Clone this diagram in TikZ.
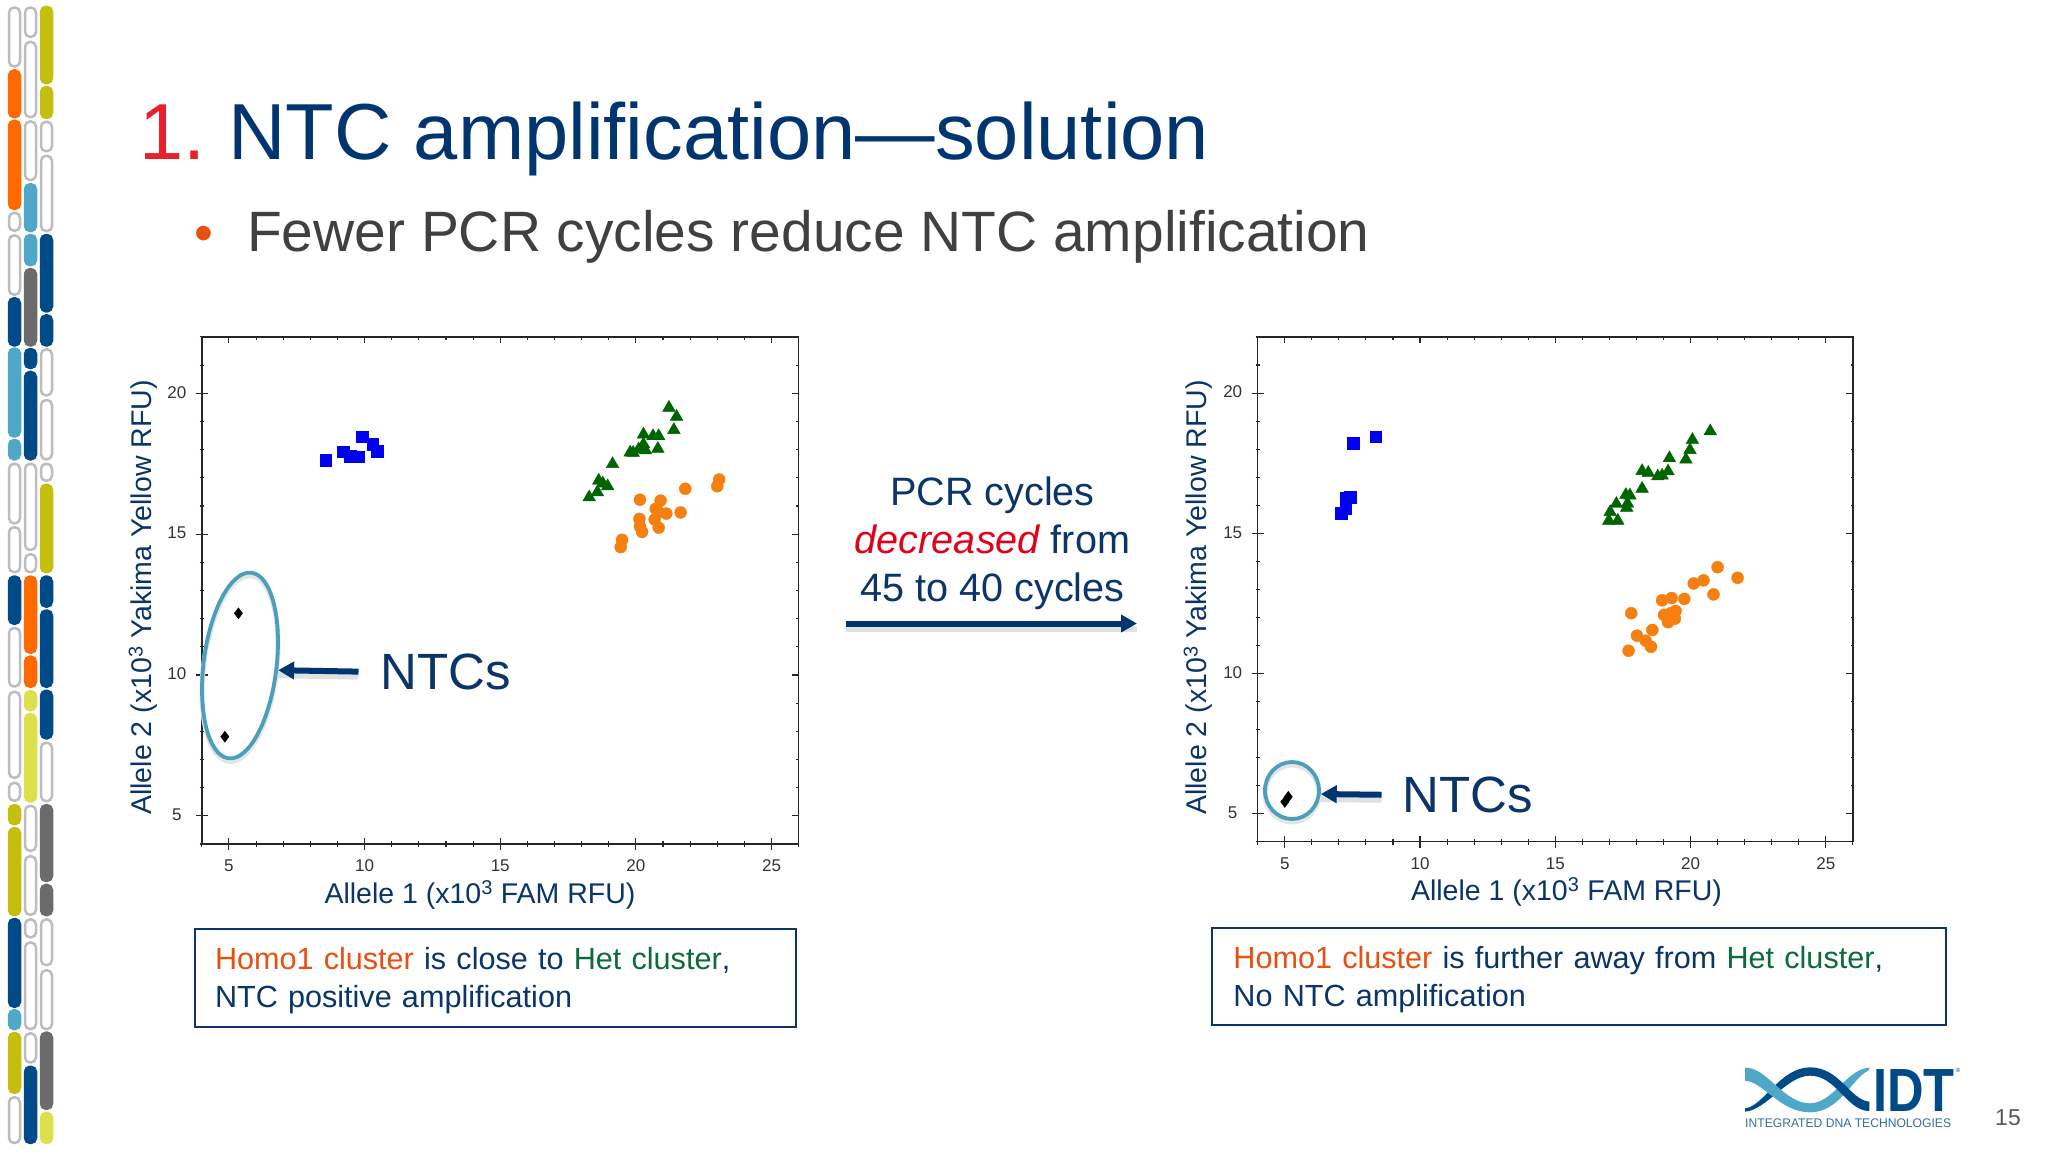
\documentclass[tikz,border=0pt]{standalone}
\usepackage{fontspec}
\setmainfont{Liberation Sans}
\usepackage{graphicx}
\usetikzlibrary{arrows.meta,plotmarks,shapes.geometric}

\definecolor{idtnavy}{HTML}{004B87}
\definecolor{idtblue}{HTML}{4FA8C8}
\definecolor{idtorange}{HTML}{FF6A00}
\definecolor{idtolive}{HTML}{C4BE0C}
\definecolor{idtlime}{HTML}{DCE04A}
\definecolor{idtgray}{HTML}{6B6B6D}
\definecolor{segline}{HTML}{BDBDBF}
\definecolor{titleblue}{HTML}{00356F}
\definecolor{textblue}{HTML}{0B3568}
\definecolor{bodygray}{HTML}{404040}
\definecolor{ringblue}{HTML}{4B9FBA}
\definecolor{homoorange}{HTML}{E8500F}
\definecolor{hetgreen}{HTML}{0B6B3A}
\definecolor{markblue}{HTML}{0000F0}
\definecolor{markgreen}{HTML}{006400}
\definecolor{markorange}{HTML}{F5800F}

\tikzset{
  segwhite/.style={draw=segline,fill=white,line width=2.5pt,rounded corners=5pt},
  segcolor/.style={draw=#1,fill=#1,line width=2.5pt,rounded corners=5pt},
  frameline/.style={draw=black!85,line width=1.4pt},
  tickline/.style={draw=black!85,line width=1.1pt},
  ticklabel/.style={text=black!80,inner sep=0pt,font=\fontsize{17}{17}\selectfont},
  axislabel/.style={text=textblue,inner sep=0pt,font=\fontsize{28.5}{28.5}\selectfont},
  ntclabel/.style={text=textblue,inner sep=0pt,anchor=west,font=\fontsize{51}{51}\selectfont},
  ntcring/.style={ellipse,draw=ringblue,line width=3.8pt,inner sep=0pt,
    preaction={draw=black!10,line width=5pt,transform canvas={yshift=-3pt}}},
  ntcarrow/.style={draw=titleblue,line width=6pt,-{Triangle[length=16pt,width=17pt]},
    preaction={draw=black!12,line width=6pt,transform canvas={yshift=-5pt},arrows=-}},
  infobox/.style={draw=textblue,line width=2pt,inner sep=0pt,text=textblue,align=left,
    font=\fontsize{30.6}{38}\selectfont},
}

% frame and ticks of one scatter plot, in data units
\newcommand{\alleleframe}{%
  \draw[frameline] (4,4) rectangle (26,22);
  \foreach \t in {4,...,26} {
    \draw[tickline] (\t,3.9) -- (\t,4.1);
    \draw[tickline] (\t,22) -- (\t,21.9);
  }
  \foreach \t in {4,...,22} {
    \draw[tickline] (3.92,\t) -- (4.08,\t);
    \draw[tickline] (26,\t) -- (25.92,\t);
  }
  \foreach \t in {5,10,...,25} {
    \draw[tickline] (\t,3.79) -- (\t,4.21);
    \draw[tickline] (\t,22) -- (\t,21.79);
    \node[ticklabel] (x\t) at (\t,4) [yshift=-22pt] {\t};
  }
  \foreach \t in {5,10,15,20} {
    \draw[tickline] (3.78,\t) -- (4.22,\t);
    \draw[tickline] (26,\t) -- (25.75,\t);
    \node[ticklabel] (y\t) at (4,\t) [xshift=-25pt,yshift=1pt] {\t};
  }
}

\begin{document}
\begin{tikzpicture}[x=1pt,y=-1pt]
  \useasboundingbox (0,0) rectangle (2048,1152);
  \fill[white] (0,0) rectangle (2048,1152);

  % chromosome bars down the left edge
  \foreach \ya/\yb/\seg in {6.3/67.7/w,69.2/118.4/idtorange,119.5/210.1/idtorange,211.6/232/w,234.2/296/w,
      297/346.7/idtnavy,347.4/437.7/idtblue,438.8/460.6/idtblue,462.5/524.6/w,526/573.4/w,
      575.3/625/idtnavy,626.8/687.7/w,690.6/779/w,781.6/802/w,803.9/825.4/idtolive,826.9/916.3/idtolive,
      917.8/1008/idtnavy,1009/1030.3/idtblue,1031.8/1094/idtolive,1096/1144.2/w} {
    \if\seg w
      \draw[segwhite] (9,\ya+1.25) rectangle (20,\yb-1.25);
    \else
      \draw[segcolor=\seg] (9,\ya+1.25) rectangle (20,\yb-1.25);
    \fi
  }
  \foreach \ya/\yb/\seg in {6.3/38.1/w,40.7/118.4/w,120.2/181.3/w,183/232.3/idtblue,233.8/266.4/idtblue,
      267.9/346.7/idtgray,347.8/369.2/idtnavy,370.7/460.6/idtnavy,462.5/551.2/w,553/573.4/w,
      575.3/653.9/idtorange,655.4/688/idtorange,689.9/711.4/idtlime,712.9/802.7/idtlime,804.6/852.1/w,
      855/916/w,918.2/938.6/w,941.2/1030.3/w,1032.1/1063.7/w,1065.5/1144.2/idtnavy} {
    \if\seg w
      \draw[segwhite] (25,\ya+1.25) rectangle (36,\yb-1.25);
    \else
      \draw[segcolor=\seg] (25,\ya+1.25) rectangle (36,\yb-1.25);
    \fi
  }
  \foreach \ya/\yb/\seg in {5.5/84.4/idtolive,85.8/119.1/idtolive,120.6/152.4/w,154.6/232.3/w,233.8/312.6/idtnavy,
      314.1/346.7/idtnavy,348.1/396.6/w,398.8/460.6/w,462.5/482/w,483.5/573.4/idtolive,
      575.3/607.9/idtnavy,609.3/688/idtnavy,689.5/739.6/idtnavy,741.5/802.4/w,803.9/882.2/idtgray,
      883.7/916.3/idtgray,918.2/966.4/w,969/1030.3/w,1031.4/1110/idtgray,1111.6/1144.2/idtlime} {
    \if\seg w
      \draw[segwhite] (41,\ya+1.25) rectangle (52,\yb-1.25);
    \else
      \draw[segcolor=\seg] (41,\ya+1.25) rectangle (52,\yb-1.25);
    \fi
  }

  \node[anchor=base west,inner sep=0pt,text=titleblue,font=\fontsize{79.5}{80}\selectfont] (title)
    at (139.5,159) {\textcolor[HTML]{E8202A}{1.}\hspace{-7pt} NTC amplification—solution};
  \node[text=bodygray,anchor=base west,inner sep=0pt,font=\fontsize{56.9}{57}\selectfont] (subtitle)
    at (247,251.5) {Fewer PCR cycles reduce NTC amplification};
  \node[text=homoorange,inner sep=0pt,font=\fontsize{54}{54}\selectfont] (bullet) at (204,238.5) {•};

  % left plot
  \begin{scope}[shift={(93.28,956.68)},x=27.13pt,y=28.17pt,name prefix=left-]
    \alleleframe
    \draw[markblue] plot[only marks,mark=square*,mark size=5.8pt,mark options={draw=none,fill=markblue}]
      coordinates {(8.56,17.63) (9.22,17.92) (9.46,17.77) (9.79,17.75) (9.92,18.46) (10.30,18.20) (10.46,17.94)};
    \draw[markgreen] plot[only marks,mark=triangle*,mark size=7.3pt,mark options={draw=none,fill=markgreen}]
      coordinates {(18.28,16.31) (18.58,16.49) (18.63,16.90) (18.78,16.80) (18.96,16.70) (19.14,17.49) (19.79,17.90)
        (19.90,17.89) (20.10,18.01) (20.28,18.19) (20.35,17.98) (20.28,18.54) (20.63,18.48) (20.84,18.48)
        (20.81,18.03) (21.40,18.70) (21.50,19.17) (21.22,19.49)};
    \draw[markorange] plot[only marks,mark=*,mark size=6pt,mark options={draw=none,fill=markorange}]
      coordinates {(19.44,14.54) (19.49,14.80) (20.23,15.08) (20.15,15.28) (20.13,15.54) (20.15,16.22) (20.91,16.19)
        (20.73,15.90) (20.84,15.78) (21.12,15.73) (21.65,15.77) (21.82,16.61) (20.69,15.52) (20.84,15.23)
        (23.00,16.70) (23.07,16.94)};
    \draw[black] plot[only marks,mark=diamond*,mark size=5.5pt,mark options={draw=none,fill=black}]
      coordinates {(5.35,12.19) (4.85,7.81)};
  \end{scope}

  % right plot
  \begin{scope}[shift={(1149.5,953.86)},x=27.05pt,y=28.04pt,name prefix=right-]
    \alleleframe
    \draw[markblue] plot[only marks,mark=square*,mark size=5.8pt,mark options={draw=none,fill=markblue}]
      coordinates {(8.36,18.45) (7.54,18.21) (7.43,16.28) (7.26,16.25) (7.26,15.87) (7.09,15.72)};
    \draw[markgreen] plot[only marks,mark=triangle*,mark size=7.3pt,mark options={draw=none,fill=markgreen}]
      coordinates {(20.73,18.64) (20.07,18.33) (19.98,17.97) (19.83,17.63) (19.22,17.68) (19.17,17.21) (18.95,17.06)
        (18.79,17.03) (18.44,17.16) (18.21,17.22) (18.21,16.59) (17.76,16.35) (17.61,16.37) (17.67,16.06)
        (17.64,15.91) (17.26,16.05) (17.03,15.76) (16.98,15.45) (17.31,15.45)};
    \draw[markorange] plot[only marks,mark=*,mark size=6pt,mark options={draw=none,fill=markorange}]
      coordinates {(21.00,13.79) (21.74,13.41) (20.48,13.32) (20.12,13.21) (20.85,12.82) (19.77,12.66) (19.30,12.69)
        (18.95,12.61) (19.45,12.23) (19.02,12.09) (19.27,12.15) (19.42,11.95) (19.17,11.83) (17.81,12.15)
        (18.59,11.55) (18.02,11.35) (18.34,11.17) (18.54,10.95) (17.71,10.81)};
    \draw[black] plot[only marks,mark=diamond*,mark size=5.5pt,mark options={draw=none,fill=black}]
      coordinates {(5.00,5.42) (5.13,5.60)};
  \end{scope}

  \node[axislabel] (xaxisleft) at (480,894.5) {Allele 1 (x10\textsuperscript{3} FAM RFU)};
  \node[axislabel] (xaxisright) at (1566.5,892) {Allele 1 (x10\textsuperscript{3} FAM RFU)};
  \node[axislabel,rotate=90] (yaxisleft) at (143,597.5) {Allele 2 (x10\textsuperscript{3} Yakima Yellow RFU)};
  \node[axislabel,rotate=90] (yaxisright) at (1198,597.5) {Allele 2 (x10\textsuperscript{3} Yakima Yellow RFU)};

  \node[ntcring,minimum width=73pt,minimum height=187pt,rotate=-7] (ringleft) at (240,665.5) {};
  \node[ntclabel] (ntcleft) at (380.5,672) {NTCs};
  \draw[ntcarrow,shorten <=22pt] (ntcleft.west) -- (ringleft.east);

  \node[ntcring,minimum width=54pt,minimum height=57pt] (ringright) at (1292,790.5) {};
  \node[ntclabel] (ntcright) at (1402.5,795) {NTCs};
  \draw[ntcarrow,shorten <=21pt] (ntcright.west) -- (ringright.-7);

  \node[text=textblue,align=center,inner sep=0pt,font=\fontsize{39.6}{48}\selectfont] (cycles) at (992.5,543)
    {PCR cycles\\ \textcolor[HTML]{E3001B}{\itshape decreased} from\\ 45 to 40 cycles};
  \coordinate (cyclestart) at (846,623.5);
  \coordinate (cycleend) at (1137,623.5);
  \draw[ntcarrow] (cyclestart) -- (cycleend);

  \node[infobox,minimum width=601.6pt,minimum height=97.4pt,text width=561pt] (boxleft) at (495.5,978)
    {\textcolor{homoorange}{Homo1 cluster} is close to \textcolor{hetgreen}{Het cluster},\\ NTC positive amplification\vspace*{-6pt}};
  \node[infobox,minimum width=734.3pt,minimum height=97pt,text width=691.5pt] (boxright) at (1579.2,976.8)
    {\textcolor{homoorange}{Homo1 cluster} is further away from \textcolor{hetgreen}{Het cluster},\\ No NTC amplification\vspace*{-6pt}};

  % logo
  \begin{scope}[shift={(1720,1040)},x=.3333pt,y=-.3333pt]
    \fill[idtblue] (270,190) .. controls (340,190) and (380,85) .. (450,83) -- (445,92)
      .. controls (400,110) and (360,217) .. (270,217) -- cycle;
    \fill[idtnavy] (75,205) .. controls (130,200) and (180,82) .. (270,82)
      .. controls (360,82) and (390,180) .. (448,185) -- (448,213)
      .. controls (380,213) and (350,107) .. (270,107)
      .. controls (200,107) and (140,210) .. (75,215) -- cycle;
    \fill[idtblue] (75,83) .. controls (140,80) and (190,190) .. (270,190) -- (270,217)
      .. controls (180,217) and (130,125) .. (75,122) -- cycle;
  \end{scope}
  \node[text=idtnavy,inner sep=0pt,anchor=base west,font=\bfseries\fontsize{61}{61}\selectfont] (logoname)
    at (1873,1111) {\scalebox{.83}[1]{IDT}};
  \node[text=idtnavy,inner sep=0pt,font=\fontsize{6}{6}\selectfont] (logomark) at (1958,1070) {®};
  \node[text=idtnavy!80!white,inner sep=0pt,anchor=base west,font=\fontsize{12.5}{12.5}\selectfont] (logotext)
    at (1745,1127.3) {\scalebox{.97}[1]{INTEGRATED DNA TECHNOLOGIES}};
  \node[text=black!65,inner sep=0pt,font=\fontsize{23}{23}\selectfont] (pagenum) at (2008,1118) {15};
\end{tikzpicture}
\end{document}
